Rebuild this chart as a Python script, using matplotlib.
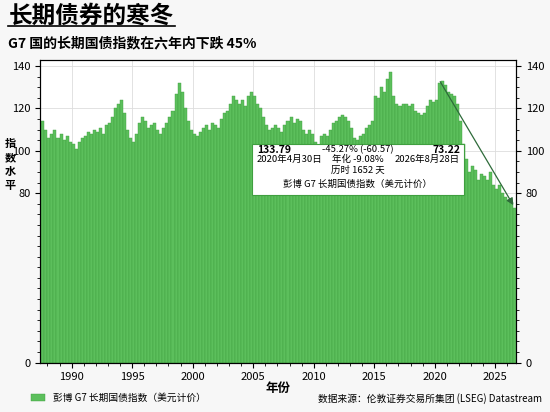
import numpy as np
import matplotlib.pyplot as plt
from matplotlib.ticker import MultipleLocator

plt.rcParams['font.family'] = ['Noto Sans CJK SC', 'DejaVu Sans']

# quarterly index values, 1987 Q3 .. 2026 Q3
start_year = 1987.5
values = [
    114, 110,                      # 1987
    106, 108, 110, 106,            # 1988
    108, 105, 107, 104,            # 1989
    103, 101, 104, 106,            # 1990
    107, 109, 108, 110,            # 1991
    109, 111, 108, 112,            # 1992
    113, 116, 120, 122,            # 1993
    124, 118, 110, 106,            # 1994
    104, 108, 113, 116,            # 1995
    114, 111, 112, 113,            # 1996
    110, 108, 111, 113,            # 1997
    116, 119, 127, 132,            # 1998
    128, 120, 114, 110,            # 1999
    108, 107, 109, 111,            # 2000
    112, 110, 113, 112,            # 2001
    111, 115, 118, 119,            # 2002
    122, 126, 124, 122,            # 2003
    124, 121, 126, 128,            # 2004
    126, 122, 120, 116,            # 2005
    112, 110, 111, 112,            # 2006
    111, 109, 112, 114,            # 2007
    116, 113, 115, 114,            # 2008
    110, 108, 110, 108,            # 2009
    104, 102, 107, 108,            # 2010
    107, 110, 113, 114,            # 2011
    116, 117, 116, 114,            # 2012
    111, 106, 105, 107,            # 2013
    108, 111, 112, 114,            # 2014
    126, 125, 130, 128,            # 2015
    134, 137, 126, 122,            # 2016
    121, 122, 122, 121,            # 2017
    122, 119, 118, 117,            # 2018
    118, 121, 124, 123,            # 2019
    124, 132, 133, 131,            # 2020
    128, 127, 126, 122,            # 2021
    114, 103, 96, 90,              # 2022
    93, 91, 86, 89,                # 2023
    88, 86, 90, 84,                # 2024
    82, 84, 80, 78,                # 2025
    77, 76, 73,                    # 2026
]
x = start_year + np.arange(len(values)) * 0.25

green = '#5cbf5c'
fig = plt.figure(figsize=(5.5, 4.12), dpi=100)
fig.patch.set_facecolor('#f7f7f7')
ax = fig.add_axes([0.073, 0.12, 0.865, 0.735])
ax.set_facecolor('white')
ax.bar(x, values, width=0.25, align='edge', color=green, edgecolor='#3f9f3f',
       linewidth=0.3, label='彭博 G7 长期国债指数（美元计价）')
ax.set_xlim(1987.4, 2026.7)
ax.set_ylim(0, 143)
yt = [0, 80, 100, 120, 140]
ax.set_yticks(yt)
ax.xaxis.set_minor_locator(MultipleLocator(1))
ax.yaxis.set_minor_locator(MultipleLocator(5))
ax.grid(True, color='#dddddd', linewidth=0.6)
ax.set_axisbelow(True)
ax.tick_params(labelsize=8)
ax2 = ax.twinx()
ax2.set_ylim(ax.get_ylim())
ax2.set_yticks(yt)
ax2.yaxis.set_minor_locator(MultipleLocator(5))
ax2.tick_params(labelsize=8)
ax.set_xlabel('年份', fontsize=9, fontweight='bold', labelpad=0)
fig.text(0.018, 0.6, '指\n数\n水\n平', fontsize=8, fontweight='bold',
         ha='center', va='center', linespacing=1.1)

ax.annotate('', xy=(2026.6, 73.22), xytext=(2020.33, 133.79),
            arrowprops=dict(arrowstyle='-|>', color='#2e6b3a', lw=0.9))
ax.add_patch(plt.Rectangle((2004.9, 79), 17.5, 24, facecolor='white',
                           edgecolor='#3f9f3f', lw=0.8, zorder=5))
kw = dict(fontsize=6.8, zorder=6, va='center')
cx = 2013.65
ax.text(2005.3, 100.5, '133.79', fontweight='bold', fontsize=7.5, zorder=6, va='center')
ax.text(cx, 100.5, '-45.27% (-60.57)', ha='center', **kw)
ax.text(2022.1, 100.5, '73.22', ha='right', fontweight='bold', fontsize=7.5, zorder=6, va='center')
ax.text(2005.3, 95.8, '2020年4月30日', **kw)
ax.text(cx, 95.8, '年化 -9.08%', ha='center', **kw)
ax.text(2022.1, 95.8, '2026年8月28日', ha='right', **kw)
ax.text(cx, 90.6, '历时 1652 天', ha='center', **kw)
ax.text(cx, 84.0, '彭博 G7 长期国债指数（美元计价）', ha='center', **kw)

fig.legend(loc='lower left', bbox_to_anchor=(0.04, 0.0), frameon=False,
           fontsize=7, handlelength=1.5)
fig.text(0.985, 0.025, '数据来源：伦敦证券交易所集团 (LSEG) Datastream', ha='right', fontsize=7)
fig.text(0.015, 0.945, '长期债券的寒冬', fontsize=17, fontweight='bold', style='italic')
fig.add_artist(plt.Line2D([0.015, 0.318], [0.937, 0.937], color='black', lw=1.2))
fig.text(0.015, 0.885, 'G7 国的长期国债指数在六年内下跌 45%', fontsize=10, fontweight='bold')
fig.savefig('out.png', dpi=100, facecolor=fig.get_facecolor())
